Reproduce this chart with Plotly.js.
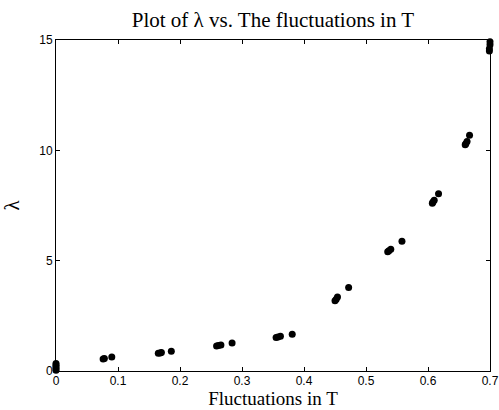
<!DOCTYPE html>
<html>
<head>
<meta charset="utf-8">
<script src="https://cdn.plot.ly/plotly-3.0.1.min.js"></script>
<style>html,body{margin:0;padding:0;background:#fff;}#chart{width:499px;height:410px;}</style>
</head>
<body>
<div id="chart"></div>
<script>
var fluctuations = [0, 0, 0, 0, 0,
  0.076, 0.078, 0.09,
  0.165, 0.168, 0.17, 0.186,
  0.259, 0.262, 0.266, 0.284,
  0.355, 0.358, 0.362, 0.381,
  0.450, 0.452, 0.454, 0.472,
  0.535, 0.537, 0.540, 0.558,
  0.607, 0.608, 0.610, 0.617,
  0.660, 0.661, 0.663, 0.667,
  0.699, 0.699, 0.700, 0.700];
var lambda = [0.03, 0.1, 0.18, 0.26, 0.34,
  0.54, 0.57, 0.63,
  0.80, 0.82, 0.84, 0.90,
  1.13, 1.15, 1.18, 1.27,
  1.52, 1.54, 1.58, 1.67,
  3.18, 3.25, 3.35, 3.78,
  5.40, 5.45, 5.52, 5.88,
  7.60, 7.66, 7.74, 8.03,
  10.25, 10.30, 10.40, 10.68,
  14.50, 14.60, 14.78, 14.92];
var titleText = 'Plot of λ vs. The fluctuations in T';
var xLabel = 'Fluctuations in T';
var yLabel = 'λ';

var serif = 'Liberation Serif, Times New Roman, serif';
var trace = {
  x: fluctuations, y: lambda, type: 'scatter', mode: 'markers',
  marker: {color: '#000', size: 7, line: {width: 0}},
  cliponaxis: false, showlegend: false
};
var axisCommon = {
  showline: true, linecolor: '#000', linewidth: 1, mirror: 'allticks',
  ticks: 'inside', ticklen: 4, tickcolor: '#000', showgrid: false, zeroline: false,
  tickfont: {family: 'Liberation Sans, Arial, sans-serif', size: 12, color: '#000'}
};
var layout = {
  width: 499, height: 410,
  margin: {l: 56, r: 9, t: 40, b: 39},
  paper_bgcolor: '#fff', plot_bgcolor: '#fff',
  title: {text: titleText, font: {family: serif, size: 21, color: '#000'},
          x: 0.547, xanchor: 'center', y: 0.952, yanchor: 'middle'},
  xaxis: Object.assign({}, axisCommon, {range: [0, 0.7], dtick: 0.1, tick0: 0,
    ticklabelstandoff: -1,
    title: {text: xLabel, font: {family: serif, size: 19, color: '#000'}, standoff: 3}}),
  yaxis: Object.assign({}, axisCommon, {range: [0, 15], dtick: 5, tick0: 0,
    title: {text: yLabel, font: {family: serif, size: 21, color: '#000'}, standoff: 18}})
};
Plotly.newPlot('chart', [trace], layout, {displayModeBar: false, staticPlot: true});
</script>
</body>
</html>
